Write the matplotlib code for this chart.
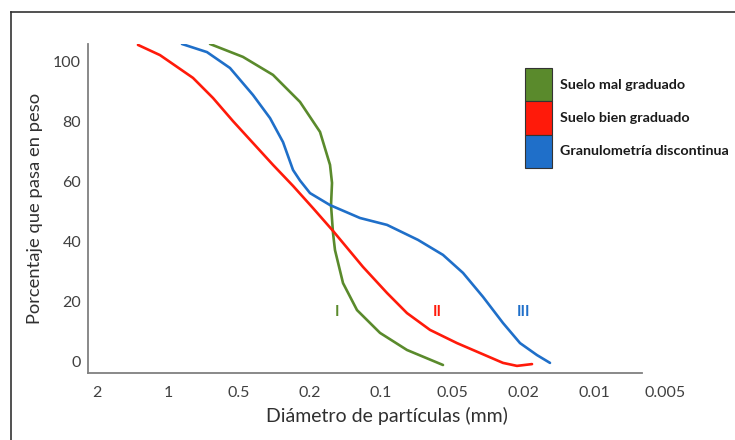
import matplotlib
matplotlib.use("Agg")
import matplotlib.pyplot as plt
from matplotlib.patches import Patch
from matplotlib.lines import Line2D

plt.rcParams['font.family'] = ['Lato', 'DejaVu Sans']

# tick labels of the diameter axis (evenly spaced in the original)
x_ticklabels = ["2", "1", "0.5", "0.2", "0.1", "0.05", "0.02", "0.01", "0.005"]
y_ticks = [0, 20, 40, 60, 80, 100]

# curves, x given as position along the tick index axis
red_x = [0.577, 0.887, 1.028, 1.352, 1.634, 1.915, 2.197, 2.479, 2.761, 3.042,
         3.324, 3.746, 4.085, 4.366, 4.690, 5.070, 5.394, 5.718, 5.915, 6.127]
red_y = [105.7, 102.3, 100.0, 94.7, 88.0, 80.3, 73.0, 65.7, 58.7, 51.3,
         43.7, 31.7, 23.0, 16.3, 10.7, 6.3, 3.0, -0.3, -1.3, -0.7]

blue_x = [1.197, 1.549, 1.873, 2.197, 2.437, 2.620, 2.761, 2.859, 3.000, 3.282,
          3.704, 4.085, 4.521, 4.873, 5.155, 5.437, 5.718, 5.958, 6.197, 6.380]
blue_y = [106.0, 103.3, 98.0, 89.0, 81.3, 73.3, 64.0, 60.5, 56.3, 52.3,
          48.0, 45.7, 40.7, 35.7, 29.7, 21.7, 13.0, 6.3, 2.3, -0.3]

green_x = [1.592, 2.056, 2.479, 2.859, 3.141, 3.282, 3.310, 3.296, 3.324, 3.352,
           3.465, 3.662, 3.986, 4.366, 4.873]
green_y = [106.0, 101.7, 95.7, 86.7, 76.7, 65.7, 59.7, 52.3, 43.0, 37.3,
           26.3, 17.3, 9.7, 4.0, -1.0]

series_names = ["Suelo mal graduado", "Suelo bien graduado", "Granulometría discontinua"]
roman = ["I", "II", "III"]
roman_x = [3.38, 4.79, 6.01]
roman_y = [16.7, 16.7, 16.7]

c_green = "#5a8a2c"
c_red = "#ff1a0a"
c_blue = "#1f6fc9"
colors = [c_green, c_red, c_blue]

fig = plt.figure(figsize=(7.35, 4.4), dpi=100)
W, H = 735, 440
x0, x_end, dx = 97, 642, 71
left_px = 88
xmin = (left_px - x0) / dx
xmax = 8.3
xend_data = (x_end - x0) / dx
right_px = x0 + dx * xmax
ax = fig.add_axes([left_px / W, 1 - 373 / H, (right_px - left_px) / W, (373 - 44) / H])

for xs, ys, c in [(green_x, green_y, c_green), (red_x, red_y, c_red), (blue_x, blue_y, c_blue)]:
    ax.plot(xs, ys, color=c, lw=1.9, solid_capstyle='round', solid_joinstyle='round')

for t, tx, ty, c in zip(roman, roman_x, roman_y, colors):
    ax.text(tx, ty, t, color=c, fontsize=11, fontweight='bold', ha='center', va='center')

ax.set_xlim(xmin, xmax)
ax.set_ylim(-3.67, 106)
ax.set_xticks(range(len(x_ticklabels)))
ax.set_xticklabels(x_ticklabels)
ax.set_yticks(y_ticks)
ax.tick_params(axis='both', length=0, labelsize=11.5, colors='#404040')
ax.tick_params(axis='x', pad=9)
ax.tick_params(axis='y', pad=5)

for s in ['top', 'right']:
    ax.spines[s].set_visible(False)
ax.spines['bottom'].set_bounds(xmin, xend_data)
for s in ['left', 'bottom']:
    ax.spines[s].set_color('#808080')
    ax.spines[s].set_linewidth(1.3)

ax.set_xlabel("Diámetro de partículas (mm)", fontsize=14, color='#303030', labelpad=5)
ax.set_ylabel("Porcentaje que pasa en peso", fontsize=13.2, color='#303030', labelpad=7)

handles = [Patch(facecolor=c, edgecolor='#333333', linewidth=0.8) for c in colors]
leg = ax.legend(handles, series_names, loc='upper left',
                bbox_to_anchor=(525 / W, 1 - 68 / H), bbox_transform=fig.transFigure,
                frameon=False, borderpad=0, borderaxespad=0, labelspacing=0,
                handlelength=1.9, handleheight=3.2, handletextpad=0.56,
                prop={'family': 'Lato', 'weight': 'bold', 'size': 10.3})
for t in leg.get_texts():
    t.set_color('#1a1a1a')

# outer frame of the original picture
fig.add_artist(Line2D([11 / W, 1.0], [1 - 12.5 / H, 1 - 12.5 / H], transform=fig.transFigure,
                      color='#333333', lw=1.2))
fig.add_artist(Line2D([11 / W, 11 / W], [0.0, 1 - 12.5 / H], transform=fig.transFigure,
                      color='#333333', lw=1.2))

fig.savefig("out.png", dpi=100)
